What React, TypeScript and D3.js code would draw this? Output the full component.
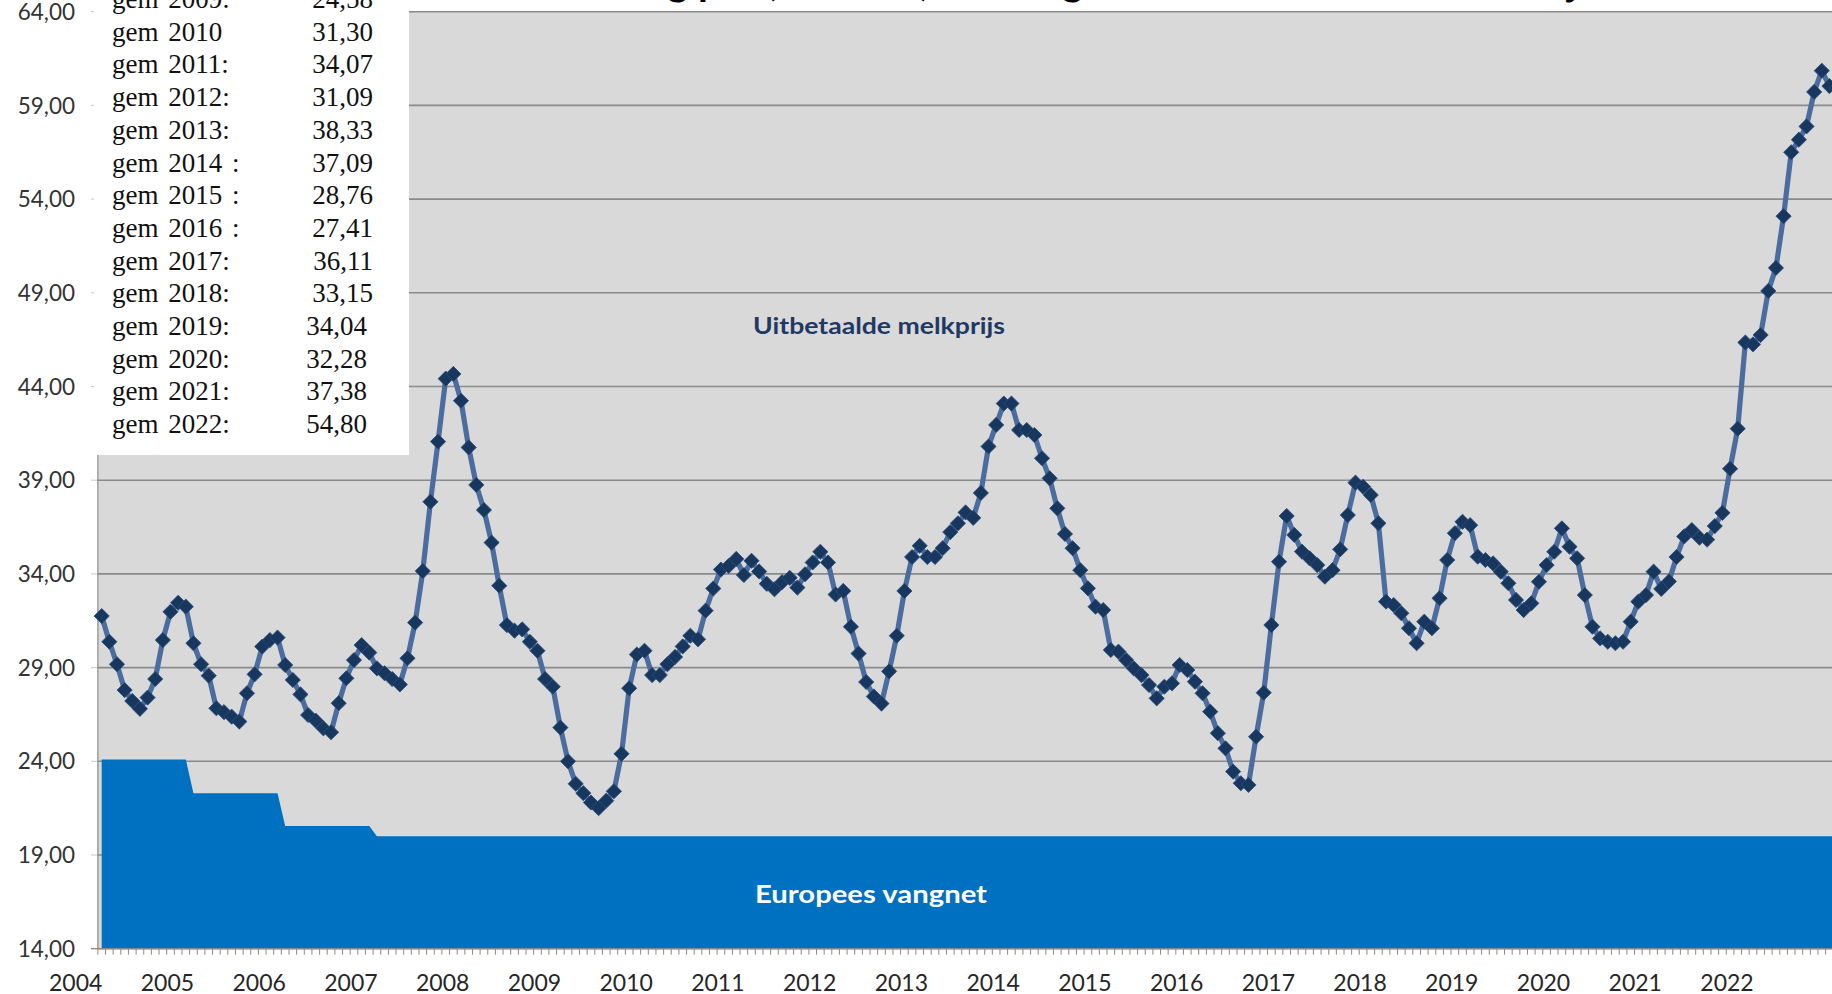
import * as d3 from "d3";

// maandelijkse uitbetaalde melkprijs (per 100 kg), jan 2004 t/m dec 2022
const prijs2004 = [31.75, 30.38, 29.18, 27.8, 27.22, 26.8, 27.4, 28.39, 30.47, 31.98, 32.46, 32.25];
const prijs2005 = [30.3, 29.18, 28.57, 26.83, 26.62, 26.38, 26.12, 27.63, 28.64, 30.12, 30.47, 30.6];
const prijs2006 = [29.14, 28.34, 27.57, 26.47, 26.17, 25.76, 25.55, 27.1, 28.43, 29.4, 30.2, 29.8];
const prijs2007 = [28.96, 28.7, 28.39, 28.1, 29.5, 31.4, 34.15, 37.85, 41.06, 44.42, 44.67, 43.24];
const prijs2008 = [40.75, 38.75, 37.41, 35.67, 33.37, 31.27, 30.97, 31.04, 30.38, 29.9, 28.39, 27.98];
const prijs2009 = [25.8, 24.0, 22.8, 22.3, 21.8, 21.5, 21.9, 22.4, 24.4, 27.9, 29.7, 29.9];
const prijs2010 = [28.6, 28.6, 29.18, 29.57, 30.13, 30.7, 30.51, 32.04, 33.22, 34.23, 34.42, 34.8];
const prijs2011 = [33.94, 34.7, 34.13, 33.47, 33.18, 33.56, 33.79, 33.27, 33.98, 34.61, 35.18, 34.61];
const prijs2012 = [32.9, 33.09, 31.18, 29.75, 28.23, 27.46, 27.08, 28.8, 30.7, 33.09, 34.9, 35.5];
const prijs2013 = [34.9, 34.9, 35.37, 36.23, 36.7, 37.28, 36.99, 38.32, 40.8, 41.95, 43.09, 43.09];
const prijs2014 = [41.68, 41.68, 41.41, 40.17, 39.1, 37.5, 36.13, 35.37, 34.2, 33.23, 32.25, 32.07];
const prijs2015 = [29.94, 29.85, 29.4, 28.96, 28.6, 28.07, 27.36, 27.98, 28.16, 29.14, 28.87, 28.25];
const prijs2016 = [27.63, 26.65, 25.5, 24.69, 23.45, 22.83, 22.74, 25.31, 27.66, 31.27, 34.65, 37.09];
const prijs2017 = [36.08, 35.19, 34.83, 34.47, 33.85, 34.2, 35.31, 37.14, 38.87, 38.65, 38.21, 36.7];
const prijs2018 = [32.52, 32.34, 31.9, 31.1, 30.3, 31.45, 31.1, 32.7, 34.74, 36.17, 36.78, 36.6];
const prijs2019 = [34.92, 34.74, 34.56, 34.12, 33.5, 32.61, 32.07, 32.43, 33.58, 34.47, 35.18, 36.43];
const prijs2020 = [35.45, 34.83, 32.87, 31.18, 30.56, 30.38, 30.3, 30.38, 31.45, 32.52, 32.87, 34.12];
const prijs2021 = [33.2, 33.6, 34.9, 36.0, 36.34, 35.93, 35.83, 36.55, 37.26, 39.61, 41.75, 46.35];
const prijs2022 = [46.25, 46.75, 49.1, 50.33, 53.09, 56.5, 57.17, 57.88, 59.72, 60.85, 60.03, 59.93];

const melkprijs = [
  ...prijs2004, ...prijs2005, ...prijs2006, ...prijs2007, ...prijs2008,
  ...prijs2009, ...prijs2010, ...prijs2011, ...prijs2012, ...prijs2013,
  ...prijs2014, ...prijs2015, ...prijs2016, ...prijs2017, ...prijs2018,
  ...prijs2019, ...prijs2020, ...prijs2021, ...prijs2022,
];

// europees vangnet: niveau geldig vanaf maandindex
const vangnetVanaf = [0, 12, 24, 36];
const vangnetNiveau = [24.1, 22.3, 20.55, 20.0];

const jaren = ["2004", "2005", "2006", "2007", "2008", "2009", "2010", "2011", "2012", "2013",
  "2014", "2015", "2016", "2017", "2018", "2019", "2020", "2021", "2022"];
const yTicks = [14, 19, 24, 29, 34, 39, 44, 49, 54, 59, 64];

const gemLabels = ["gem 2009:", "gem 2010", "gem 2011:", "gem 2012:", "gem 2013:", "gem 2014 :",
  "gem 2015 :", "gem 2016 :", "gem 2017:", "gem 2018:", "gem 2019:", "gem 2020:", "gem 2021:", "gem 2022:"];
const gemWaarden = ["24,58", "31,30", "34,07", "31,09", "38,33", "37,09", "28,76", "27,41", "36,11",
  "33,15", "34,04", "32,28", "37,38", "54,80"];

const width = 1832;
const height = 994;
const sans = "Lato, 'Open Sans', sans-serif";
const serif = "'Liberation Serif', 'Times New Roman', serif";

const x = d3.scaleLinear().domain([0, 227]).range([101.7, 1837.1]);
const y = d3.scaleLinear().domain([14, 64]).range([948.7, 11.7]);

function vangnetOp(i: number) {
  let v = vangnetNiveau[0];
  vangnetVanaf.forEach((start, k) => {
    if (i >= start) v = vangnetNiveau[k];
  });
  return v;
}

export default function App() {
  const maanden = melkprijs.map((_, i) => i);
  const plotLeft = x(-0.5);
  const bottom = y(14);

  const area = d3
    .area<number>()
    .x((i) => x(i))
    .y0(bottom)
    .y1((i) => y(vangnetOp(i)));

  const line = d3
    .line<number>()
    .x((_, i) => x(i))
    .y((d) => y(d));

  const diamond = d3.symbol().type(d3.symbolSquare).size(115)();

  return (
    <div style={{ position: "absolute", left: 0, top: 0 }}>
      <svg width={width} height={height} style={{ display: "block", overflow: "hidden", background: "#fff" }}>
        {/* titel, grotendeels buiten beeld */}
        <text x={450} y={-5} fontFamily={sans} fontWeight={700} fontSize={40} fill="#000">
          Ontwikkeling per (100 kilo) en het gemiddelde van elk kalenderjaar
        </text>

        <rect x={plotLeft} y={y(64)} width={width - plotLeft} height={bottom - y(64)} fill="#d9d9d9" />

        {yTicks.map((t) => (
          <g key={t}>
            <line x1={plotLeft} x2={width} y1={y(t)} y2={y(t)} stroke="#8a8a8a" strokeWidth={1.6} />
            <line x1={91} x2={plotLeft} y1={y(t)} y2={y(t)} stroke="#c8c8c8" strokeWidth={1} />
            <text x={75} y={y(t)} dy="0.36em" textAnchor="end" fontFamily={sans} fontSize={22.5} fill="#333">
              {d3.format(".2f")(t).replace(".", ",")}
            </text>
          </g>
        ))}

        <path d={area(maanden) ?? ""} fill="#0070c0" />

        <line x1={plotLeft} x2={plotLeft} y1={y(64)} y2={bottom} stroke="#8a8a8a" strokeWidth={1.2} />
        <line x1={91} x2={width} y1={bottom} y2={bottom} stroke="#8a8a8a" strokeWidth={1.2} />
        {d3.range(0, 229).map((i) => (
          <line key={i} x1={x(i - 0.5)} x2={x(i - 0.5)} y1={bottom} y2={bottom + 6} stroke="#8a8a8a" strokeWidth={1} />
        ))}

        <path d={line(melkprijs) ?? ""} fill="none" stroke="#4a6c9e" strokeWidth={5.2} strokeLinejoin="round" />
        {melkprijs.map((v, i) => (
          <path
            key={i}
            d={diamond ?? ""}
            transform={`translate(${x(i)},${y(v)}) rotate(45)`}
            fill="#17375e"
            stroke="#2b4d7c"
            strokeWidth={0.8}
          />
        ))}

        {jaren.map((j, k) => (
          <text key={j} x={x(k * 12 - 3.4)} y={991} textAnchor="middle" fontFamily={sans} fontSize={23} fill="#262626">
            {j}
          </text>
        ))}

        <text x={879} y={334} textAnchor="middle" fontFamily={sans} fontWeight={700} fontSize={23} fill="#1f3864" textLength={252} lengthAdjust="spacingAndGlyphs">
          Uitbetaalde melkprijs
        </text>
        <text x={871} y={903} textAnchor="middle" fontFamily={sans} fontWeight={700} fontSize={24} fill="#ffffff" textLength={232} lengthAdjust="spacingAndGlyphs">
          Europees vangnet
        </text>

        {/* tekstvak met jaargemiddelden */}
        <rect x={94} y={0} width={315} height={455} fill="#ffffff" />
        {gemLabels.map((l, i) => (
          <g key={l}>
            <text x={112} y={8 + i * 32.7} fontFamily={serif} fontSize={27} fill="#111" wordSpacing={3}>
              {l}
            </text>
            <text x={i >= 10 ? 367 : 373} y={8 + i * 32.7} textAnchor="end" fontFamily={serif} fontSize={27} fill="#111">
              {gemWaarden[i]}
            </text>
          </g>
        ))}
      </svg>
    </div>
  );
}
